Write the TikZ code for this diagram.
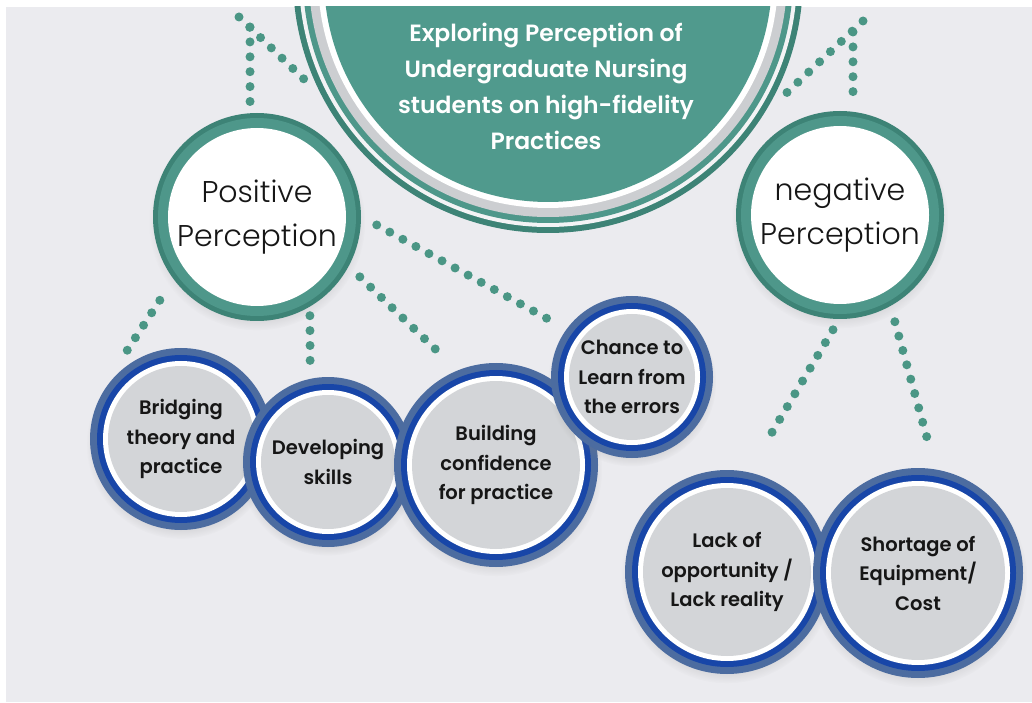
\documentclass[tikz,border=0pt]{standalone}
\usepackage{fontspec}
\setmainfont{Poppins}
\newfontfamily\medfont{Poppins}[UprightFont={* SemiBold}]
\newfontfamily\handfont{Poppins}[UprightFont={* Light}]
\usepackage{xcolor}
\usetikzlibrary{calc, shadows}

\definecolor{bgray}{RGB}{235,235,239}
\definecolor{tealdark}{RGB}{61,131,118}
\definecolor{tealring}{RGB}{78,151,138}
\definecolor{tealfill}{RGB}{80,154,141}
\definecolor{dotteal}{RGB}{74,150,133}
\definecolor{ringgray}{RGB}{204,206,209}
\definecolor{bluesteel}{RGB}{76,108,160}
\definecolor{blueroyal}{RGB}{24,70,168}
\definecolor{bubgray}{RGB}{211,213,216}
\definecolor{inkblack}{RGB}{22,22,22}

\begin{document}
\begin{tikzpicture}[
    x=1pt, y=1pt,
    every node/.style={inner sep=0pt, outer sep=0pt},
    bigring/.style={
        circle,
        minimum size=510pt,
        fill=tealdark,
        path picture={
            \fill[bgray!60!white] (path picture bounding box.center) circle (249pt);
            \fill[tealring] (path picture bounding box.center) circle (245pt);
            \fill[ringgray] (path picture bounding box.center) circle (239pt);
            \fill[white] (path picture bounding box.center) circle (230pt);
            \fill[tealfill] (path picture bounding box.center) circle (224pt);
        }
    },
    titletext/.style={
        align=center,
        text=white,
        font=\medfont\fontsize{23.5pt}{36pt}\selectfont
    },
    perc/.style={
        circle,
        minimum size={2*#1pt},
        fill=tealdark,
        align=center,
        text=inkblack,
        font=\handfont\fontsize{30pt}{44pt}\selectfont,
        circular drop shadow={shadow xshift=0pt, shadow yshift=-5pt, shadow scale=1.04, opacity=0.25},
        path picture={
            \fill[tealring] (path picture bounding box.center) circle ({#1pt-5pt});
            \fill[white] (path picture bounding box.center) circle ({#1pt-15pt});
        }
    },
    bubble/.style={
        circle,
        minimum size={2*#1pt},
        fill=bluesteel,
        align=center,
        text=inkblack,
        font=\medfont\fontsize{19.5pt}{29.5pt}\selectfont,
        circular drop shadow={shadow xshift=0pt, shadow yshift=-5pt, shadow scale=1.04, opacity=0.25},
        path picture={
            \fill[blueroyal] (path picture bounding box.center) circle ({#1pt-7pt});
            \fill[white] (path picture bounding box.center) circle ({#1pt-13pt});
            \fill[bubgray] (path picture bounding box.center) circle ({#1pt-18pt});
        }
    },
    dotline/.style={draw=dotteal, line width=9pt, line cap=round, dash pattern=on 0pt off 14.9pt}
]

\useasboundingbox (0,0) rectangle (1032,702);
\fill[white] (0,0) rectangle (1032,702);
\fill[bgray] (6,0) rectangle (1032,695);
\clip (6,0) rectangle (1032,695);

\node[bigring] (topic) at (548,724) {};
\node[titletext] (title) at (546,616) {Exploring Perception of\\Undergraduate Nursing\\students on high-fidelity\\Practices};

\node[perc=104] (pos) at (257,485) {Positive\\Perception};
\node[perc=104] (neg) at (840,487) {negative\\Perception};

\node[bubble=91] (bridge) at (181,263) {Bridging\\theory and\\practice};
\node[bubble=85] (skills) at (328,240) {Developing\\skills};
\node[bubble=102] (confid) at (496,237) {Building\\confidence\\for practice};
\node[bubble=81] (errors) at (632,325) {Chance to\\Learn from\\the errors};
\node[bubble=102] (lack) at (727,130) {Lack of\\opportunity /\\Lack reality};
\node[bubble=105] (cost) at (918,129) {Shortage of\\Equipment/\\Cost};

\coordinate (apexL) at (239,685);
\coordinate (jointL) at (250,675);
\coordinate (apexR) at (863,681);
\coordinate (jointR) at (853,670);

\draw[dotline] (apexL) -- ($(topic)+(202.6:264)$);
\draw[dotline] (jointL) -- ($(pos)+(93.5:114)$);
\draw[dotline] (apexR) -- ($(topic)+(334.4:265)$);
\draw[dotline] (jointR) -- ($(neg)+(83.4:113)$);

\draw[dotline] ($(pos)+(220.6:128)$) -- ($(bridge)+(127.7:99)$);
\draw[dotline] ($(pos)+(298.2:112)$) -- ($(skills)+(100.2:101)$);
\draw[dotline] ($(pos)+(329.8:119)$) -- ($(confid)+(115.5:118)$);
\draw[dotline] ($(pos)+(356.2:120)$) -- ($(errors)+(145.2:99)$);
\draw[dotline] ($(neg)+(266.5:115)$) -- ($(lack)+(73.5:133)$);
\draw[dotline] ($(neg)+(297.2:120)$) -- ($(cost)+(84.5:125)$);

\end{tikzpicture}
\end{document}
